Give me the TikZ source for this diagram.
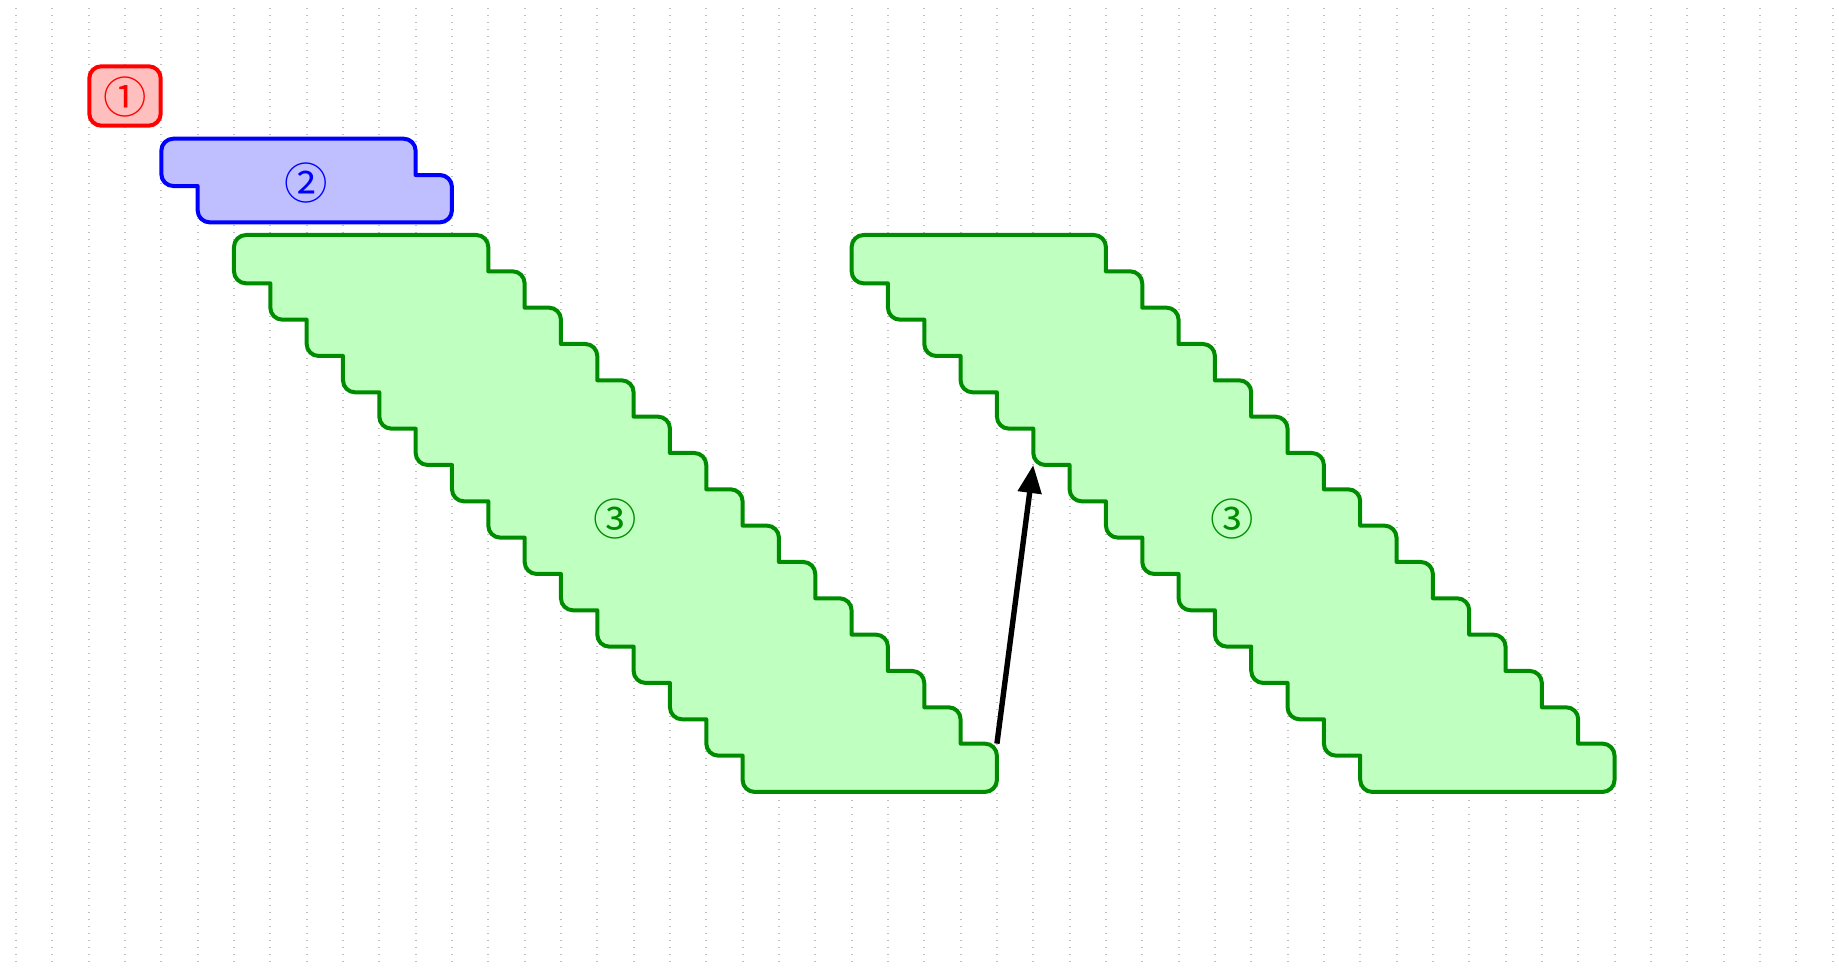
\documentclass[tikz,border=0pt]{standalone}
\usepackage{fontspec}
\newfontfamily\circfont{Noto Sans CJK SC}
\usetikzlibrary{arrows.meta}
\definecolor{gborder}{RGB}{0,140,0}
\newcommand\stairs[5]{% #1 style, #2 left x, #3 top y, #4 number of steps, #5 left lag
  \draw[#1]
    (#2,{#3+12}) arc[start angle=180,end angle=90,radius=6pt]
    -- ({#2+7*\g-12},#3) arc[start angle=90,end angle=0,radius=6pt]
    \foreach \k in {1,...,#4}{
      -- ({#2+(6+\k)*\g},{#3+\k*\g})
      -- ({#2+(7+\k)*\g-12},{#3+\k*\g}) arc[start angle=90,end angle=0,radius=6pt]
    }
    -- ({#2+(7+#4)*\g},{#3+(#4+1)*\g+#5-12}) arc[start angle=0,end angle=-90,radius=6pt]
    -- ({#2+#4*\g+12},{#3+(#4+1)*\g+#5}) arc[start angle=-90,end angle=-180,radius=6pt]
    \foreach \k in {#4,...,1}{
      -- ({#2+\k*\g},{#3+\k*\g+#5})
      -- ({#2+(\k-1)*\g+12},{#3+\k*\g+#5}) arc[start angle=-90,end angle=-180,radius=6pt]
    }
    -- cycle;
}
\begin{document}
\begin{tikzpicture}[x=0.5pt,y=-0.5pt,
  shapeline/.style={line width=2pt, line join=round},
  redbox/.style={shapeline, draw=red, fill=red!25, rounded corners=6pt},
  bluebox/.style={shapeline, draw=blue, fill=blue!25},
  greenbox/.style={shapeline, draw=gborder, fill=green!25},
  lbl/.style={font=\circfont\fontsize{21.7}{21.7}\selectfont, inner sep=0pt},
  gridline/.style={draw=black!25, line width=1pt, dash pattern=on 0.5pt off 3pt},
  arrowline/.style={line width=2.7pt, -{Triangle[length=14pt,width=11.5pt]}}]
\useasboundingbox (0,0) rectangle (1839,972);
\pgfmathsetmacro\g{36.33}
% background dotted lines
\foreach \i in {0,...,50}
  \draw[gridline] ({16+\i*\g},8.5) -- ({16+\i*\g},966);
% shapes
\draw[redbox] (89.3,66.3) rectangle (160.7,125.7);
\stairs{bluebox}{16+4*\g}{138.7}{1}{11}
\stairs{greenbox}{16+6*\g}{235}{14}{12}
\stairs{greenbox}{16+23*\g}{235}{14}{12}
% labels
\node[lbl, text=red] (l1) at (125.3,97.5) {①};
\node[lbl, text=blue] (l2) at (306.6,183.5) {②};
\node[lbl, text=gborder] (l3a) at (615.4,519) {③};
\node[lbl, text=gborder] (l3b) at (1232.5,519) {③};
% connector
\coordinate (a1) at ({16+27*\g},{235+14*\g});
\coordinate (a2) at ({16+28*\g},{235+6*\g+12});
\draw[arrowline] (a1) -- (a2);
\end{tikzpicture}
\end{document}
